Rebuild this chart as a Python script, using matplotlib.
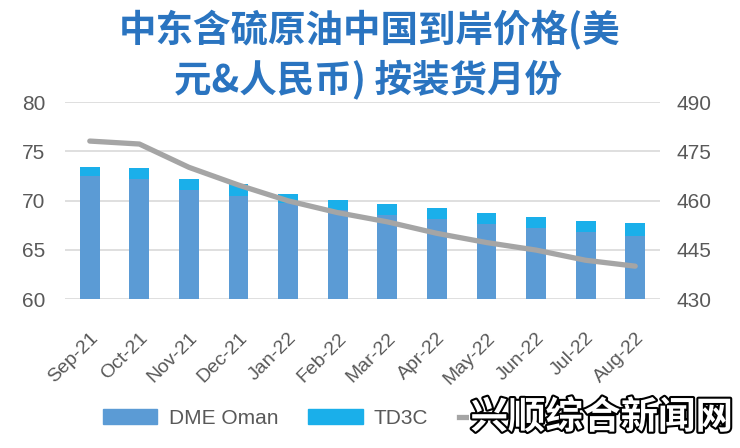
import matplotlib
matplotlib.use("Agg")
import matplotlib.pyplot as plt
import matplotlib.patheffects as pe
from matplotlib.lines import Line2D
from matplotlib.patches import Patch

plt.rcParams["font.family"] = ["Liberation Sans", "Noto Sans CJK SC", "DejaVu Sans"]

months = ["Sep-21", "Oct-21", "Nov-21", "Dec-21", "Jan-22", "Feb-22",
          "Mar-22", "Apr-22", "May-22", "Jun-22", "Jul-22", "Aug-22"]
dme_oman = [72.5, 72.2, 71.1, 70.5, 69.7, 69.0, 68.5, 68.1, 67.6, 67.2, 66.8, 66.4]
td3c = [0.95, 1.1, 1.1, 1.2, 1.0, 1.05, 1.15, 1.1, 1.15, 1.15, 1.15, 1.3]
rmb_price = [478.1, 477.2, 470.1, 464.7, 459.9, 456.3, 453.5, 450.0, 447.2, 444.9, 441.8, 440.0]

c_dme = "#5B9BD5"
c_td3c = "#1AAFEA"
c_line = "#A5A5A5"
c_text = "#595959"
c_title = "#2A74C0"

fig = plt.figure(figsize=(7.4, 4.48), dpi=100)
# plot area in pixels: x 65..660, y 102..299
ax = fig.add_axes([65 / 740, 1 - 299 / 448, 595 / 740, 197 / 448])
ax2 = ax.twinx()

x = list(range(len(months)))
ax.bar(x, dme_oman, width=0.4, color=c_dme, zorder=2)
ax.bar(x, td3c, width=0.4, bottom=dme_oman, color=c_td3c, zorder=2)
ax.set_ylim(60, 80)
ax.set_yticks([60, 65, 70, 75, 80])
ax.set_xlim(-0.5, len(months) - 0.5)
ax.grid(axis="y", color="#D9D9D9", linewidth=1.2, zorder=0)
ax.set_axisbelow(True)

ax2.plot(x, rmb_price, color=c_line, linewidth=3.8, solid_capstyle="round", zorder=3)
ax2.set_ylim(430, 490)
ax2.set_yticks([430, 445, 460, 475, 490])

for a in (ax, ax2):
    for s in a.spines.values():
        s.set_visible(False)
    a.tick_params(length=0, labelsize=15, colors=c_text)
ax.tick_params(axis="y", pad=14)
ax2.tick_params(axis="y", pad=12)
ax.set_xticks(x)
ax.set_xticklabels(months, rotation=45, ha="right", rotation_mode="anchor",
                   fontsize=14, color=c_text)
ax.tick_params(axis="x", pad=22)

# title, two centred lines
fig.text(370 / 740, 1 - 30 / 448, "中东含硫原油中国到岸价格(美",
         ha="center", va="center", fontsize=27, color=c_title,
         fontweight="bold", family=["Noto Sans CJK SC", "DejaVu Sans"])
fig.text(368 / 740, 1 - 80 / 448, "元&人民币) 按装货月份",
         ha="center", va="center", fontsize=27, color=c_title,
         fontweight="bold", family=["Noto Sans CJK SC", "DejaVu Sans"])

handles = [Patch(color=c_dme), Patch(color=c_td3c),
           Line2D([0], [0], color=c_line, linewidth=3.8)]
fig.legend(handles, ["DME Oman", "TD3C", "人民币价格"], loc="center left",
           bbox_to_anchor=(103 / 740, 1 - 418 / 448), ncol=3, frameon=False,
           fontsize=15, labelcolor=c_text, handlelength=2.6, columnspacing=1.45,
           handletextpad=0.55, borderpad=0, borderaxespad=0)

# watermark sits over the end of the legend
fig.text(733 / 740, 1 - 417 / 448, "兴顺综合新闻网", ha="right", va="center",
         fontsize=27, color="white", fontweight="bold", zorder=10,
         family=["Noto Sans CJK SC", "DejaVu Sans"],
         path_effects=[pe.withStroke(linewidth=3, foreground="black")],
         bbox=dict(facecolor="white", edgecolor="none", pad=1))

fig.savefig("out.png", dpi=100)
